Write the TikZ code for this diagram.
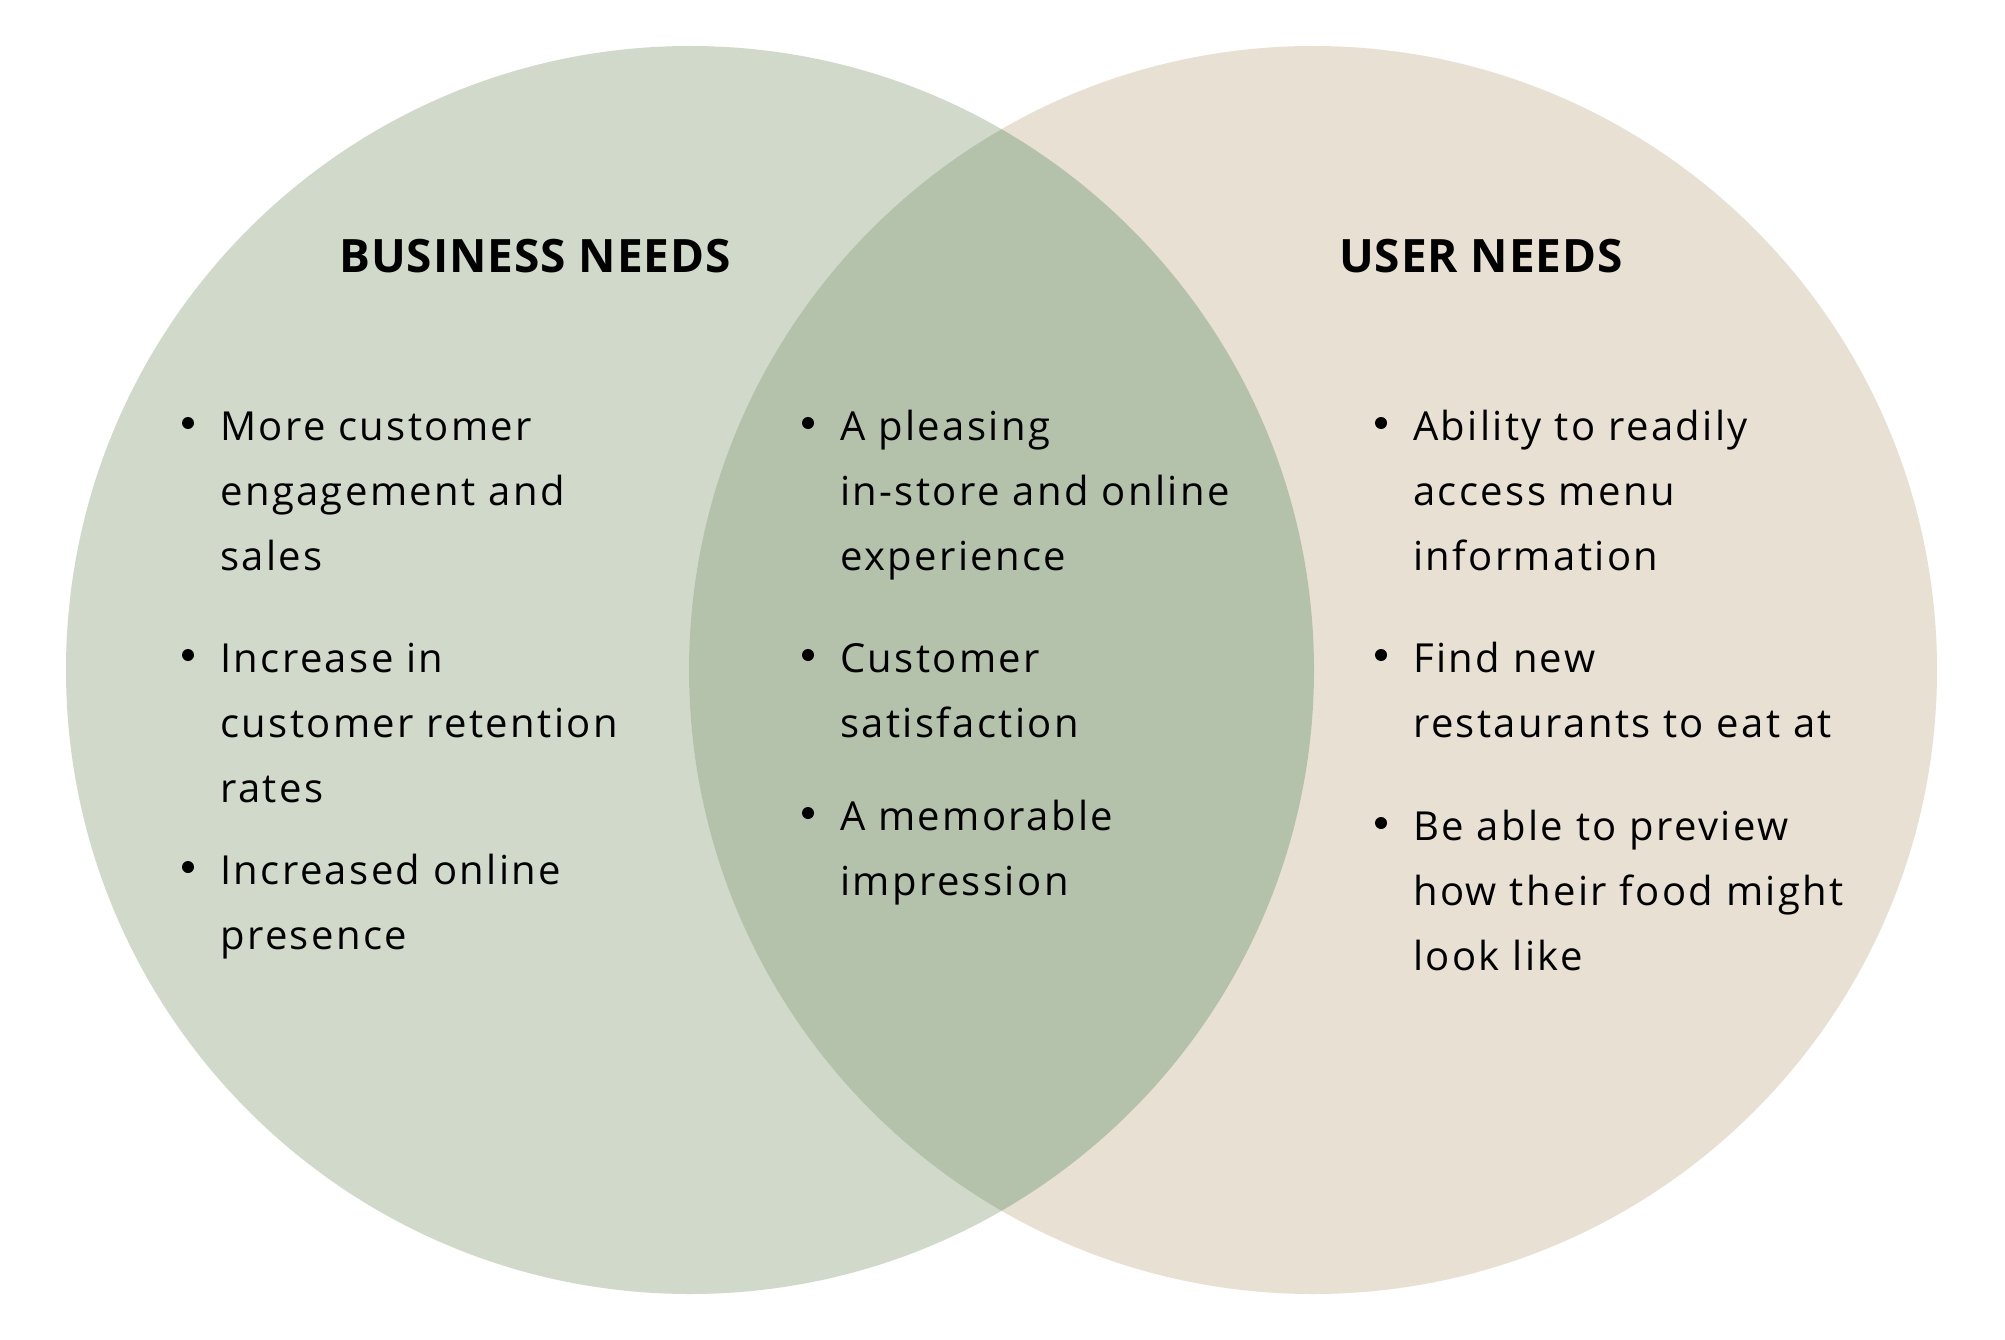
\documentclass[tikz,border=0pt]{standalone}
\usepackage{fontspec}
\setmainfont{Open Sans}
\definecolor{bizfill}{RGB}{208,217,202}
\definecolor{userfill}{RGB}{232,225,211}
\definecolor{bothfill}{RGB}{181,194,171}
\newcommand{\itemlines}[1]{\begin{tabular}[t]{@{}l@{}}#1\end{tabular}}
\begin{document}
\begin{tikzpicture}[x=1pt,y=-1pt,
  item/.style={anchor=base west,align=left,inner sep=0pt,font=\fontsize{40}{65}\selectfont\addfontfeatures{LetterSpace=6}},
  dot/.style={circle,fill=black,inner sep=0pt,minimum size=12pt},
  head/.style={anchor=base,inner sep=0pt,font=\fontsize{46}{50}\selectfont\bfseries\addfontfeatures{LetterSpace=2}}]
\fill[white] (0,0) rectangle (2005,1340);
\useasboundingbox (0,0) rectangle (2005,1340);
\coordinate (cl) at (690,670);
\coordinate (cr) at (1313,670);
\fill[bizfill] (cl) circle[radius=624pt];
\fill[userfill] (cr) circle[radius=624pt];
\begin{scope}
  \clip (cl) circle[radius=624pt];
  \fill[bothfill] (cr) circle[radius=624pt];
\end{scope}
% headings
\node[head] (hb) at (535,273) {BUSINESS NEEDS};
\node[head] (hu) at (1481,273) {USER NEEDS};
% left
\node[dot] (b1) at (188,423) {};
\node[item] (l1) at (220,440) {\itemlines{More customer\\engagement and\\sales}};
\node[dot] (b2) at (188,655) {};
\node[item] (l2) at (220,672) {\itemlines{Increase in\\customer retention\\rates}};
\node[dot] (b3) at (188,867) {};
\node[item] (l3) at (220,884) {\itemlines{Increased online\\presence}};
% middle
\node[dot] (b4) at (808,423) {};
\node[item] (m1) at (840,440) {\itemlines{A pleasing\\in-store and online\\experience}};
\node[dot] (b5) at (808,655) {};
\node[item] (m2) at (840,672) {\itemlines{Customer\\satisfaction}};
\node[dot] (b6) at (808,813) {};
\node[item] (m3) at (840,830) {\itemlines{A memorable\\impression}};
% right
\node[dot] (b7) at (1381,423) {};
\node[item] (r1) at (1413,440) {\itemlines{Ability to readily\\access menu\\information}};
\node[dot] (b8) at (1381,655) {};
\node[item] (r2) at (1413,672) {\itemlines{Find new\\restaurants to eat at}};
\node[dot] (b9) at (1381,823) {};
\node[item] (r3) at (1413,840) {\itemlines{Be able to preview\\how their food might\\look like}};
\end{tikzpicture}
\end{document}
